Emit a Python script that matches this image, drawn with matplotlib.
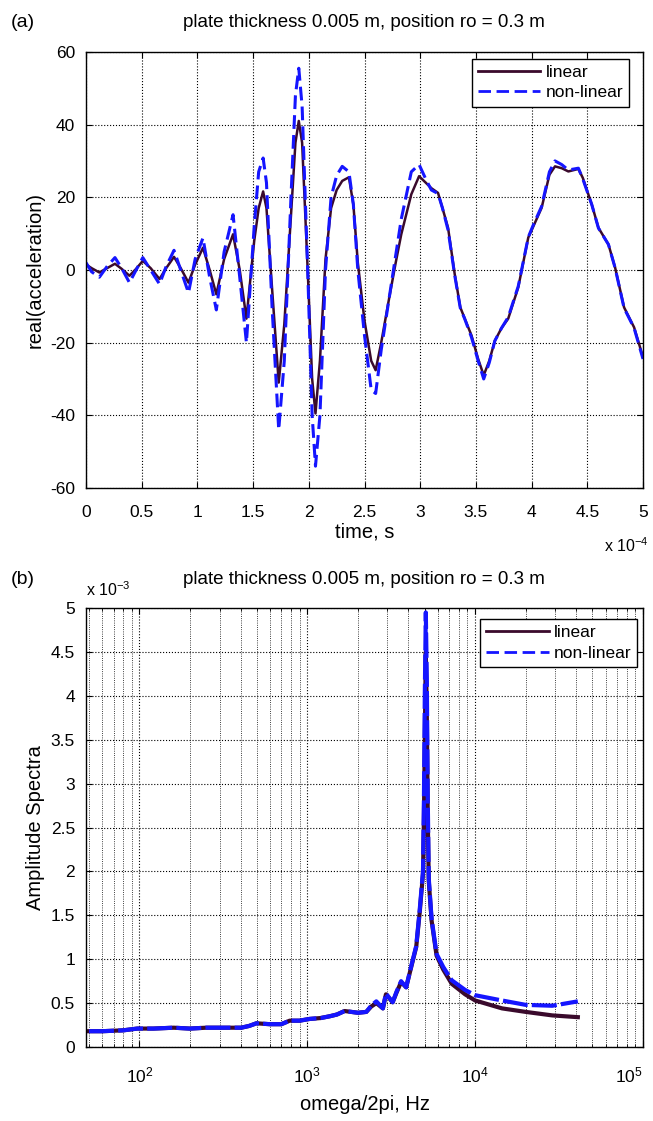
import numpy as np
import matplotlib
matplotlib.use("Agg")
import matplotlib.pyplot as plt
from matplotlib.lines import Line2D
from matplotlib.ticker import LogLocator, NullFormatter

plt.rcParams['font.family'] = ['Liberation Sans', 'DejaVu Sans']
plt.rcParams['mathtext.fontset'] = 'custom'
plt.rcParams['mathtext.rm'] = 'Liberation Sans'
plt.rcParams['mathtext.it'] = 'Liberation Sans'
plt.rcParams['axes.unicode_minus'] = False

# ---- (a) time signal, time in units of 1e-4 s
t_lin = [0.00, 0.05, 0.12, 0.19, 0.26, 0.32, 0.39, 0.45, 0.51, 0.58, 0.66, 0.72,
         0.79, 0.85, 0.92, 0.98, 1.05, 1.11, 1.17, 1.24, 1.32, 1.38, 1.44, 1.51,
         1.55, 1.59, 1.62, 1.67, 1.73, 1.78, 1.84, 1.88, 1.91, 1.94, 1.99, 2.03,
         2.06, 2.10, 2.15, 2.20, 2.25, 2.30, 2.36, 2.40, 2.44, 2.50, 2.56, 2.60,
         2.65, 2.72, 2.78, 2.83, 2.92, 2.99, 3.05, 3.10, 3.16, 3.20, 3.25, 3.31,
         3.36, 3.40, 3.46, 3.52, 3.57, 3.62, 3.67, 3.73, 3.79, 3.88, 3.97, 4.01,
         4.09, 4.16, 4.21, 4.27, 4.33, 4.42, 4.46, 4.54, 4.60, 4.69, 4.75, 4.83,
         4.92, 5.00]
acc_lin = [1.5, 0.5, -0.7, 0.5, 1.7, 0.3, -1.6, 0.3, 2.5, 0.5, -2.5, 0.5,
           3.6, 0.5, -3.5, 1.5, 6.1, 0.0, -6.7, 3.0, 9.8, 0.0, -13.4, 8.0,
           17.0, 21.6, 17.0, -5.0, -31.0, -15.0, 15.0, 35.0, 41.0, 35.0, 0.0, -30.0,
           -39.5, -25.0, 3.0, 17.0, 22.0, 24.5, 25.5, 18.0, 2.0, -14.0, -25.0, -27.6,
           -20.0, -8.0, 2.0, 9.8, 20.8, 25.8, 24.0, 22.5, 21.2, 17.0, 11.6, -1.2,
           -10.3, -13.4, -18.0, -24.5, -29.0, -25.0, -19.5, -16.0, -13.4, -4.8, 8.9, 11.6,
           17.1, 26.2, 28.5, 28.0, 27.1, 27.8, 25.3, 18.0, 11.6, 7.0, 0.6, -10.3,
           -15.8, -24.0]
t_nl = t_lin
acc_nl = [2.0, -0.5, -2.0, 1.0, 3.4, 0.5, -3.5, 0.0, 3.4, 0.0, -3.9, 1.0,
          5.4, 0.0, -6.3, 3.0, 8.8, -2.0, -11.0, 5.0, 15.2, -2.0, -20.0, 12.0,
          27.0, 30.8, 24.0, -10.0, -44.0, -25.0, 20.0, 48.0, 55.5, 45.0, 0.0, -40.0,
          -54.0, -40.0, 0.0, 20.0, 26.0, 28.5, 27.0, 18.0, 0.0, -18.0, -33.0, -34.0,
          -22.0, -8.0, 4.0, 14.0, 27.0, 29.0, 25.0, 22.0, 21.0, 17.0, 11.0, -1.5,
          -10.5, -13.5, -18.5, -25.0, -30.0, -25.5, -19.5, -16.0, -13.0, -4.5, 9.0, 12.0,
          17.5, 27.0, 30.0, 29.0, 27.5, 28.0, 25.0, 18.0, 11.5, 7.0, 0.5, -10.5,
          -16.0, -24.5]

# ---- (b) amplitude spectra, values in units of 1e-3
freq = [50, 60, 80, 97, 121, 160, 199, 250, 300, 404, 450, 497, 597, 700, 785,
        900, 1032, 1200, 1358, 1500, 1668, 2003, 2245, 2400, 2576, 2820, 2940,
        3224, 3400, 3620, 3880, 4157, 4454, 4666, 4887, 4950, 5010, 5080, 5150,
        5220, 5290, 5500, 5890, 6460, 7250, 8710, 10000, 14450, 20000, 28800, 40900]
amp_lin = [0.18, 0.18, 0.19, 0.21, 0.21, 0.22, 0.21, 0.22, 0.22, 0.22, 0.24, 0.27,
           0.26, 0.26, 0.30, 0.30, 0.32, 0.33, 0.35, 0.37, 0.41, 0.39, 0.40, 0.46,
           0.50, 0.44, 0.60, 0.51, 0.62, 0.74, 0.68, 0.91, 1.14, 1.52, 1.97, 2.6,
           3.5, 4.5, 3.8, 2.6, 1.89, 1.44, 1.04, 0.88, 0.72, 0.60, 0.53, 0.44,
           0.40, 0.36, 0.34]
amp_nl = [0.18, 0.18, 0.19, 0.21, 0.21, 0.22, 0.21, 0.22, 0.22, 0.22, 0.24, 0.27,
          0.26, 0.26, 0.30, 0.30, 0.32, 0.33, 0.35, 0.37, 0.41, 0.39, 0.40, 0.47,
          0.52, 0.44, 0.61, 0.51, 0.63, 0.75, 0.68, 0.92, 1.15, 1.55, 2.0, 2.8,
          4.0, 4.95, 4.2, 2.8, 1.92, 1.46, 1.06, 0.91, 0.76, 0.65, 0.59, 0.53,
          0.48, 0.47, 0.52]

c_lin = '#3a0a2c'
c_nl = '#1515ff'
dash = (0, (4.5, 2))

fig = plt.figure(figsize=(6.53, 11.21), dpi=100)
ax1 = fig.add_axes([0.1317, 0.5647, 0.853, 0.389])
ax2 = fig.add_axes([0.1317, 0.066, 0.853, 0.3916])


def matlab_style(ax, pad_x):
    ax.tick_params(direction='in', top=True, right=True, length=4, width=0.8,
                   labelsize=12.5, colors='black')
    ax.tick_params(axis='x', pad=pad_x)
    ax.tick_params(axis='y', pad=8)
    ax.tick_params(which='minor', direction='in', top=True, right=True, length=2.5)
    for s in ax.spines.values():
        s.set_linewidth(1.0)
    ax.set_axisbelow(True)


leg_handles = [Line2D([], [], color=c_lin, lw=2),
               Line2D([], [], color=c_nl, lw=2, ls=dash)]
leg_kw = dict(loc='upper right', fontsize=12.5, frameon=True, fancybox=False,
              edgecolor='black', framealpha=1, handlelength=3.6, handletextpad=0.3,
              borderpad=0.35, labelspacing=0.3, borderaxespad=0)

# panel (a)
ax1.plot(t_lin, acc_lin, color=c_lin, lw=1.8)
ax1.plot(t_nl, acc_nl, color=c_nl, lw=2.2, ls=dash)
ax1.set_xlim(0, 5)
ax1.set_ylim(-60, 60)
ax1.set_xticks(np.arange(0, 5.01, 0.5))
ax1.set_xticklabels(['0', '0.5', '1', '1.5', '2', '2.5', '3', '3.5', '4', '4.5', '5'])
ax1.set_yticks(np.arange(-60, 61, 20))
ax1.grid(True, ls=':', color='black', lw=0.8)
matlab_style(ax1, 12)
ax1.set_xlabel('time, s', fontsize=14.5, labelpad=2)
ax1.set_ylabel('real(acceleration)', fontsize=14.5, labelpad=4)
fig.text(0.558, 0.980, 'plate thickness 0.005 m, position ro = 0.3 m',
         ha='center', va='center', fontsize=13.5)
fig.text(0.017, 0.980, '(a)', ha='left', va='center', fontsize=14)
fig.text(0.993, 0.513, r'x 10$^{\mathrm{-4}}$', ha='right', va='center', fontsize=11.5)
ax1.legend(leg_handles, ['linear', 'non-linear'], bbox_to_anchor=(0.975, 0.984), **leg_kw)

# panel (b)
ax2.plot(freq, amp_lin, color=c_lin, lw=3.0)
ax2.plot(freq, amp_nl, color=c_nl, lw=3.0, ls=(0, (6, 1)))
ax2.set_xscale('log')
ax2.set_xlim(48, 1e5)
ax2.set_ylim(0, 5)
ax2.set_yticks(np.arange(0, 5.01, 0.5))
ax2.set_yticklabels(['0', '0.5', '1', '1.5', '2', '2.5', '3', '3.5', '4', '4.5', '5'])
ax2.xaxis.set_major_locator(LogLocator(base=10, numticks=10))
ax2.xaxis.set_minor_locator(LogLocator(base=10, subs=np.arange(2, 10), numticks=20))
ax2.xaxis.set_minor_formatter(NullFormatter())
ax2.grid(True, which='major', ls=':', color='black', lw=0.8)
ax2.grid(True, which='minor', axis='x', ls=':', color='black', lw=0.6)
matlab_style(ax2, 13)
ax2.set_xlabel('omega/2pi, Hz', fontsize=14.5, labelpad=7)
ax2.set_ylabel('Amplitude Spectra', fontsize=14.5, labelpad=4)
fig.text(0.558, 0.483, 'plate thickness 0.005 m, position ro = 0.3 m',
         ha='center', va='center', fontsize=13.5)
fig.text(0.017, 0.483, '(b)', ha='left', va='center', fontsize=14)
fig.text(0.132, 0.474, r'x 10$^{\mathrm{-3}}$', ha='left', va='center', fontsize=11.5)
ax2.legend(leg_handles, ['linear', 'non-linear'], bbox_to_anchor=(0.99, 0.975), **leg_kw)

# keep the 10^5 label inside the figure edge
fig.canvas.draw()
for lab in ax2.get_xticklabels():
    if lab.get_position()[0] >= 1e5 * 0.99:
        lab.set_horizontalalignment('right')

fig.savefig('out.png', dpi=100)
